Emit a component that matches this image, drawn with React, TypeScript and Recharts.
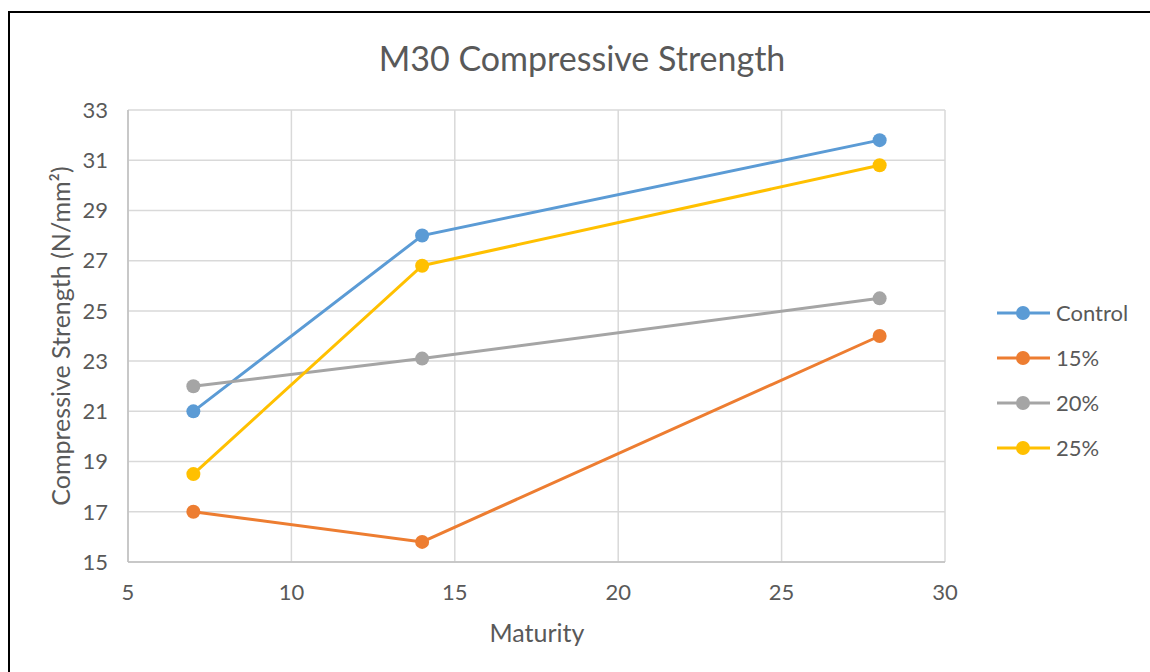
import { LineChart, Line, XAxis, YAxis, CartesianGrid } from "recharts"

const maturity = [7, 14, 28]
const control = [21, 28, 31.8]
const pct15 = [17, 15.8, 24]
const pct20 = [22, 23.1, 25.5]
const pct25 = [18.5, 26.8, 30.8]

const xTicks = [5, 10, 15, 20, 25, 30]
const yTicks = [15, 17, 19, 21, 23, 25, 27, 29, 31, 33]

const seriesList = [
  { key: "control", name: "Control", color: "#5B9BD5" },
  { key: "p15", name: "15%", color: "#ED7D31" },
  { key: "p20", name: "20%", color: "#A5A5A5" },
  { key: "p25", name: "25%", color: "#FFC000" },
]

const data = maturity.map((m, i) => ({
  maturity: m,
  control: control[i],
  p15: pct15[i],
  p20: pct20[i],
  p25: pct25[i],
}))

const font = "Lato, 'Open Sans', sans-serif"
const textColor = "#595959"

function LegendBox() {
  return (
    <div
      style={{
        position: "absolute",
        left: 987,
        top: 277,
        fontFamily: font,
        fontSize: 22,
        color: textColor,
      }}
    >
      {seriesList.map((s) => (
        <div key={s.key} style={{ display: "flex", alignItems: "center", height: 45 }}>
          <svg width={59} height={20}>
            <line x1={0} y1={10} x2={53} y2={10} stroke={s.color} strokeWidth={3} />
            <circle cx={26} cy={10} r={7} fill={s.color} />
          </svg>
          <span>{s.name}</span>
        </div>
      ))}
    </div>
  )
}

export default function App() {
  return (
    <div
      style={{
        position: "fixed",
        left: 8,
        top: 11,
        width: 1142,
        height: 661,
        borderLeft: "2px solid #000",
        borderTop: "2px solid #000",
        background: "#fff",
        boxSizing: "border-box",
        fontFamily: font,
      }}
    >
      <div
        style={{
          position: "absolute",
          left: 572,
          top: 44,
          transform: "translate(-50%, -50%)",
          whiteSpace: "nowrap",
          fontSize: 34,
          color: textColor,
        }}
      >
        M30 Compressive Strength
      </div>
      <div
        style={{
          position: "absolute",
          left: 50,
          top: 323,
          transform: "translate(-50%, -50%) rotate(-90deg)",
          whiteSpace: "nowrap",
          fontSize: 25,
          color: textColor,
        }}
      >
        Compressive Strength (N/mm²)
      </div>
      <div
        style={{
          position: "absolute",
          left: 527,
          top: 619,
          transform: "translate(-50%, -50%)",
          whiteSpace: "nowrap",
          fontSize: 25,
          color: textColor,
        }}
      >
        Maturity
      </div>
      <LineChart
        width={1140}
        height={659}
        data={data}
        margin={{ top: 97, right: 205, left: 58, bottom: 50 }}
      >
        <CartesianGrid stroke="#d9d9d9" strokeWidth={1.5} />
        <XAxis
          dataKey="maturity"
          type="number"
          domain={[5, 30]}
          ticks={xTicks}
          height={60}
          tickLine={false}
          tickMargin={16}
          stroke="#bfbfbf"
          strokeWidth={1.5}
          tick={{ fill: textColor, fontSize: 22, fontFamily: font }}
        />
        <YAxis
          type="number"
          domain={[15, 33]}
          ticks={yTicks}
          width={60}
          tickLine={false}
          tickMargin={14}
          stroke="#bfbfbf"
          strokeWidth={1.5}
          tick={{ fill: textColor, fontSize: 22, fontFamily: font }}
        />
        {seriesList.map((s) => (
          <Line
            key={s.key}
            type="linear"
            dataKey={s.key}
            name={s.name}
            stroke={s.color}
            strokeWidth={3}
            dot={{ r: 7, fill: s.color, stroke: s.color, strokeWidth: 0 }}
            activeDot={false}
            isAnimationActive={false}
          />
        ))}
      </LineChart>
      <LegendBox />
    </div>
  )
}
